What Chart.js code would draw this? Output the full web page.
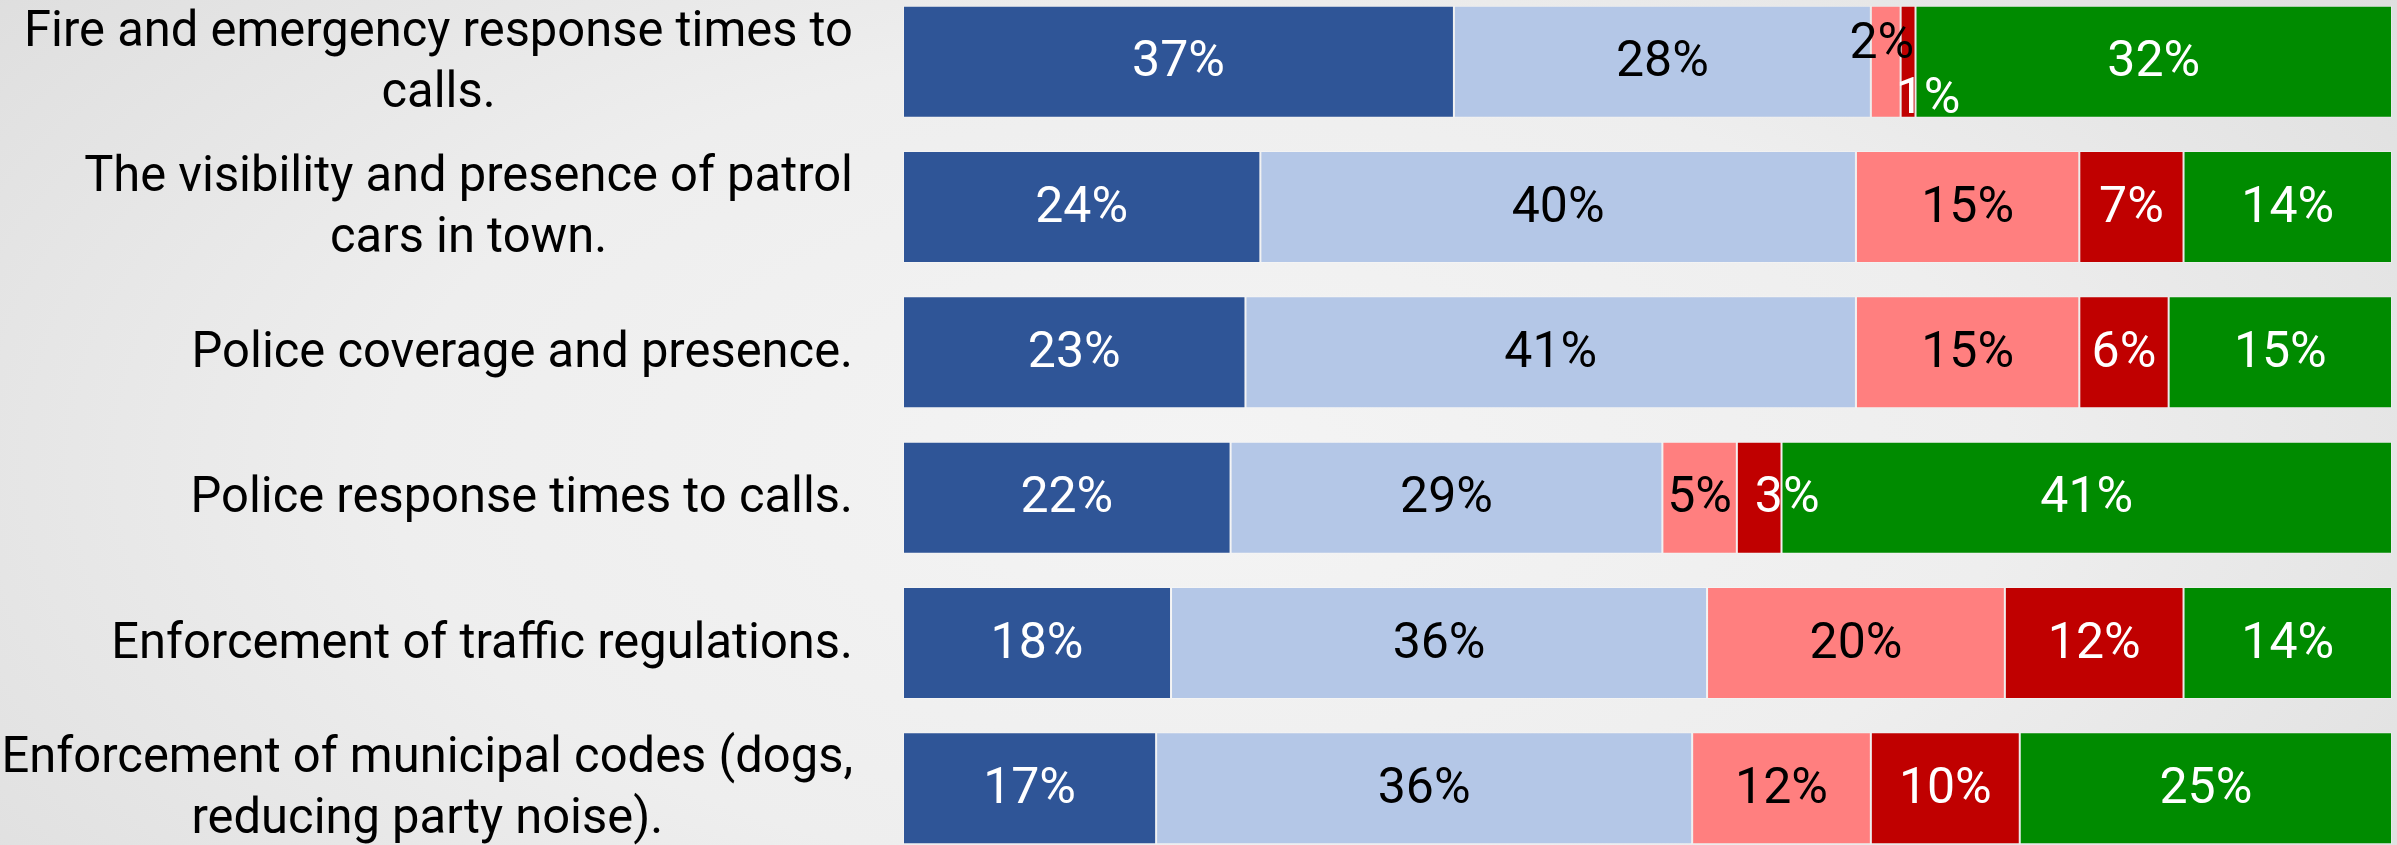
<!DOCTYPE html>
<html>
<head>
<meta charset="utf-8">
<script src="https://cdn.jsdelivr.net/npm/chart.js@4"></script>
<style>
  html, body { margin: 0; padding: 0; }
  body {
    width: 2397px; height: 845px; overflow: hidden;
    background: radial-gradient(ellipse 75% 110% at 50% 55%, #f4f4f4 0%, #eeeeee 45%, #d8d8d8 100%);
  }
  #wrap { position: relative; width: 2397px; height: 845px; overflow: hidden; }
  #chart { position: absolute; left: 0; top: -11px; }
</style>
</head>
<body>
<div id="wrap"><canvas id="chart" width="2397" height="872"></canvas></div>
<script>
const categories = [
  ["Fire and emergency response times to", "calls."],
  ["The visibility and presence of patrol", "cars in town."],
  ["Police coverage and presence."],
  ["Police response times to calls."],
  ["Enforcement of traffic regulations."],
  ["Enforcement of municipal codes (dogs,", "reducing party noise)."]
];

const seriesNames = ["Very satisfied", "Satisfied", "Dissatisfied", "Very dissatisfied", "Don't know"];
const verySatisfied    = [37, 24, 23, 22, 18, 17];
const satisfied        = [28, 40, 41, 29, 36, 36];
const dissatisfied     = [2, 15, 15, 5, 20, 12];
const veryDissatisfied = [1, 7, 6, 3, 12, 10];
const dontKnow         = [32, 14, 15, 41, 14, 25];

const colors = ["#2F5597", "#B4C7E7", "#FF7F7F", "#C00000", "#008B00"];
const labelColors = ["#ffffff", "#000000", "#000000", "#ffffff", "#ffffff"];

// small nudges for crowded labels: "row-dataset": [dx, dy]
const nudges = { "0-2": [-4, -18], "0-3": [20, 37], "3-3": [28, 0] };

const FONT = "Roboto, 'Open Sans', sans-serif";

// category text is drawn by hand so wrapped lines can be centred under each other
const categoryLabels = {
  id: "categoryLabels",
  afterDraw(chart) {
    const ctx = chart.ctx;
    const y = chart.scales.y;
    const sx = 0.978, right = 853, lh = 61;
    ctx.save();
    ctx.font = "50px " + FONT;
    ctx.fillStyle = "#000000";
    ctx.textBaseline = "middle";
    ctx.textAlign = "center";
    ctx.scale(sx, 1);
    categories.forEach((lines, i) => {
      const cy = y.getPixelForValue(i);
      const w = Math.max(...lines.map(l => ctx.measureText(l).width)) * sx;
      const cx = (right - w / 2) / sx;
      const top = cy - (lines.length - 1) * lh / 2 + 2;
      lines.forEach((l, k) => ctx.fillText(l, cx, top + k * lh));
    });
    ctx.restore();
  }
};

const valueLabels = {
  id: "valueLabels",
  afterDatasetsDraw(chart) {
    const ctx = chart.ctx;
    ctx.save();
    ctx.font = "50px " + FONT;
    ctx.textAlign = "center";
    ctx.textBaseline = "middle";
    chart.data.datasets.forEach((ds, di) => {
      const meta = chart.getDatasetMeta(di);
      meta.data.forEach((bar, i) => {
        const n = nudges[i + "-" + di] || [0, 0];
        const x = (bar.x + bar.base) / 2 + n[0];
        ctx.fillStyle = labelColors[di];
        ctx.fillText(ds.data[i] + "%", x, bar.y + 2 + n[1]);
      });
    });
    ctx.restore();
  }
};

const values = [verySatisfied, satisfied, dissatisfied, veryDissatisfied, dontKnow];

new Chart(document.getElementById("chart"), {
  type: "bar",
  data: {
    labels: categories.map(c => c.join(" ")),
    datasets: values.map((v, i) => ({
      label: seriesNames[i],
      data: v,
      backgroundColor: colors[i],
      borderColor: "rgba(255,255,255,0.25)",
      borderWidth: 1,
      borderSkipped: false,
      barPercentage: 0.771,
      categoryPercentage: 1
    }))
  },
  options: {
    indexAxis: "y",
    responsive: false,
    animation: false,
    devicePixelRatio: 1,
    layout: { padding: { left: 903, right: 5, top: 0, bottom: 0 } },
    plugins: { legend: { display: false }, tooltip: { enabled: false } },
    scales: {
      x: { stacked: true, min: 0, max: 100, display: false },
      y: { stacked: true, display: false }
    }
  },
  plugins: [valueLabels, categoryLabels]
});
</script>
</body>
</html>
